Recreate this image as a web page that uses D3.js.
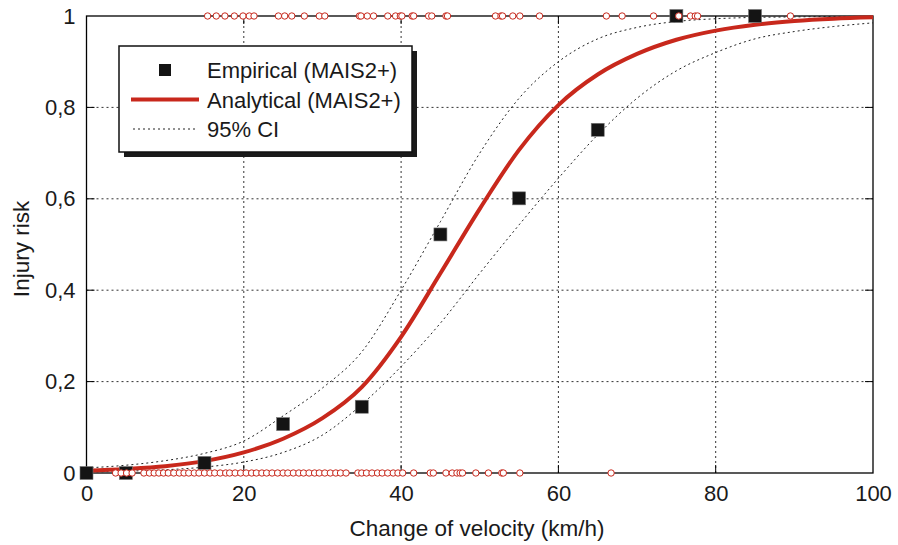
<!DOCTYPE html>
<html>
<head>
<meta charset="utf-8">
<script src="https://cdn.jsdelivr.net/npm/d3@7"></script>
<style>
  body { margin: 0; background: #fff; }
  svg { display: block; font-family: "Liberation Sans", Arial, sans-serif; }
</style>
</head>
<body>
<svg id="chart" width="898" height="545"></svg>
<script>
// Injury risk vs. change of velocity: raw cases (0/1), binned empirical risk,
// fitted curve and its 95% band.

const xTicks = [0, 20, 40, 60, 80, 100];
const yTicks = [0, 0.2, 0.4, 0.6, 0.8, 1];
const yTickLabels = ["0", "0,2", "0,4", "0,6", "0,8", "1"];

// binned empirical risk
const empX = [0, 5, 15, 25, 35, 45, 55, 65, 75, 85];
const empY = [0, 0, 0.022, 0.107, 0.145, 0.522, 0.601, 0.751, 1, 1];

// analytical curve and CI, sampled every 5 km/h
const curveX = [0, 5, 10, 15, 20, 25, 30, 35, 40, 45, 50, 55, 60, 65, 70, 75, 80, 85, 90, 95, 100];
const analytical = [0.005, 0.009, 0.015, 0.026, 0.045, 0.075, 0.12, 0.188, 0.298, 0.437, 0.578, 0.707, 0.805, 0.872, 0.917, 0.948, 0.968, 0.981, 0.989, 0.994, 0.997];
const ciUpper = [0.011, 0.017, 0.027, 0.043, 0.07, 0.125, 0.186, 0.265, 0.40, 0.55, 0.70, 0.82, 0.90, 0.95, 0.975, 0.988, 0.994, 0.997, 0.998, 0.999, 0.999];
const ciLower = [0.002, 0.004, 0.007, 0.013, 0.024, 0.045, 0.083, 0.15, 0.233, 0.328, 0.437, 0.543, 0.645, 0.74, 0.82, 0.88, 0.92, 0.95, 0.966, 0.977, 0.985];

// individual cases: injured (risk 1) and not injured (risk 0)
const injuredX = [15.4, 16.5, 17.6, 18.8, 19.9, 20.7, 21.3, 24.4, 25.2, 26.1, 27.7, 29.6, 30.3,
  34.7, 34.9, 35.7, 36.5, 38.3, 39.3, 39.9, 40.1, 41.4, 41.6, 43.5, 43.9, 45.7, 45.9,
  52.0, 52.7, 52.9, 54.2, 55.1, 57.6, 66.1, 68.1, 72.1, 75.3, 76.8, 77.4, 77.7, 89.5];
const uninjuredX = [3.7, 4.4, 5.1, 5.8, 7.3, 8.0, 8.6, 9.2, 9.8, 10.4, 11.1, 11.8, 12.4, 13.0,
  13.7, 14.3, 15.0, 15.7, 16.3, 17.0, 17.7, 18.2, 18.9, 19.6, 20.3, 21.0, 21.6, 22.3, 22.9,
  23.6, 24.3, 25.0, 25.6, 26.3, 27.0, 27.6, 28.3, 29.0, 29.6, 30.3, 31.0, 31.7, 32.3, 33.0,
  34.5, 35.0, 35.6, 36.3, 37.0, 37.6, 38.3, 39.0, 39.6, 40.2, 41.6, 43.7, 44.1, 45.7, 46.5,
  47.1, 47.5, 47.8, 49.5, 51.1, 52.8, 53.0, 55.1, 66.7];

const legendItems = ["Empirical (MAIS2+)", "Analytical (MAIS2+)", "95% CI"];

const RED = "#c8281c";
const m = { left: 86.5, right: 873, top: 16, bottom: 473 };

const svg = d3.select("#chart");
const x = d3.scaleLinear().domain([0, 100]).range([m.left, m.right]);
const y = d3.scaleLinear().domain([0, 1]).range([m.bottom, m.top]);

// grid (dotted) + short solid inward ticks
const grid = svg.append("g");
xTicks.slice(1, -1).forEach((t) => {
  grid.append("line").attr("x1", x(t)).attr("x2", x(t)).attr("y1", m.top).attr("y2", m.bottom)
    .attr("stroke", "#333").attr("stroke-dasharray", "2,3");
  grid.append("line").attr("x1", x(t)).attr("x2", x(t)).attr("y1", m.bottom).attr("y2", m.bottom - 8).attr("stroke", "#000");
  grid.append("line").attr("x1", x(t)).attr("x2", x(t)).attr("y1", m.top).attr("y2", m.top + 8).attr("stroke", "#000");
});
yTicks.slice(1, -1).forEach((t) => {
  grid.append("line").attr("y1", y(t)).attr("y2", y(t)).attr("x1", m.left).attr("x2", m.right)
    .attr("stroke", "#333").attr("stroke-dasharray", "2,3");
  grid.append("line").attr("y1", y(t)).attr("y2", y(t)).attr("x1", m.left).attr("x2", m.left + 8).attr("stroke", "#000");
  grid.append("line").attr("y1", y(t)).attr("y2", y(t)).attr("x1", m.right).attr("x2", m.right - 8).attr("stroke", "#000");
});

// frame
svg.append("rect").attr("x", m.left).attr("y", m.top)
  .attr("width", m.right - m.left).attr("height", m.bottom - m.top)
  .attr("fill", "none").attr("stroke", "#000").attr("stroke-width", 1.3);

// axes labels (no domain, no tick lines; the frame does that)
const xAxis = svg.append("g").attr("transform", `translate(0,${m.bottom})`)
  .call(d3.axisBottom(x).tickValues(xTicks).tickSize(0).tickPadding(12));
const yAxis = svg.append("g").attr("transform", `translate(${m.left},0)`)
  .call(d3.axisLeft(y).tickValues(yTicks).tickFormat((d, i) => yTickLabels[i]).tickSize(0).tickPadding(11));
[xAxis, yAxis].forEach((a) => {
  a.select(".domain").remove();
  a.selectAll("text").attr("font-size", 22).attr("fill", "#1a1a1a").attr("font-family", "Liberation Sans, Arial, sans-serif");
});

svg.append("text").attr("x", 477).attr("y", 536)
  .attr("text-anchor", "middle").attr("font-size", 22.5).attr("fill", "#1a1a1a")
  .text("Change of velocity (km/h)");
svg.append("text").attr("transform", "translate(29,249) rotate(-90)")
  .attr("text-anchor", "middle").attr("font-size", 22.5).attr("fill", "#1a1a1a")
  .text("Injury risk");

// curves
const line = d3.line().x((d) => x(d[0])).y((d) => y(d[1])).curve(d3.curveMonotoneX);
const pts = (ys) => curveX.map((v, i) => [v, ys[i]]);
svg.append("path").attr("d", line(pts(ciUpper))).attr("fill", "none")
  .attr("stroke", "#222").attr("stroke-width", 1).attr("stroke-dasharray", "2,3");
svg.append("path").attr("d", line(pts(ciLower))).attr("fill", "none")
  .attr("stroke", "#222").attr("stroke-width", 1).attr("stroke-dasharray", "2,3");
svg.append("path").attr("d", line(pts(analytical))).attr("fill", "none")
  .attr("stroke", RED).attr("stroke-width", 4);

// empirical squares
const S = 13;
svg.append("g").selectAll("rect").data(empX.map((v, i) => [v, empY[i]])).join("rect")
  .attr("x", (d) => x(d[0]) - S / 2).attr("y", (d) => y(d[1]) - S / 2)
  .attr("width", S).attr("height", S)
  .attr("fill", "#141414").attr("stroke", "#777").attr("stroke-width", 0.6);

// individual cases on top
const cases = injuredX.map((v) => [v, 1]).concat(uninjuredX.map((v) => [v, 0]));
svg.append("g").selectAll("circle").data(cases).join("circle")
  .attr("cx", (d) => x(d[0])).attr("cy", (d) => y(d[1])).attr("r", 3.2)
  .attr("fill", "#fff").attr("stroke", RED).attr("stroke-width", 1);

// legend with drop shadow
const lg = svg.append("g").attr("transform", "translate(119,46)");
const LW = 293, LH = 106;
lg.append("rect").attr("x", 5).attr("y", 5).attr("width", LW).attr("height", LH).attr("fill", "#1a1a1a");
lg.append("rect").attr("width", LW).attr("height", LH).attr("fill", "#fff")
  .attr("stroke", "#111").attr("stroke-width", 1.5);
legendItems.forEach((label, i) => {
  const cy = 24 + i * 29.5;
  if (i === 0) {
    lg.append("rect").attr("x", 46 - 6).attr("y", cy - 6).attr("width", 12).attr("height", 12).attr("fill", "#141414");
  } else if (i === 1) {
    lg.append("line").attr("x1", 12).attr("x2", 80).attr("y1", cy).attr("y2", cy)
      .attr("stroke", RED).attr("stroke-width", 4);
  } else {
    lg.append("line").attr("x1", 14).attr("x2", 78).attr("y1", cy).attr("y2", cy)
      .attr("stroke", "#222").attr("stroke-dasharray", "2,3");
  }
  lg.append("text").attr("x", 88).attr("y", cy + 8).attr("font-size", 22).attr("fill", "#1a1a1a").text(label);
});
</script>
</body>
</html>
